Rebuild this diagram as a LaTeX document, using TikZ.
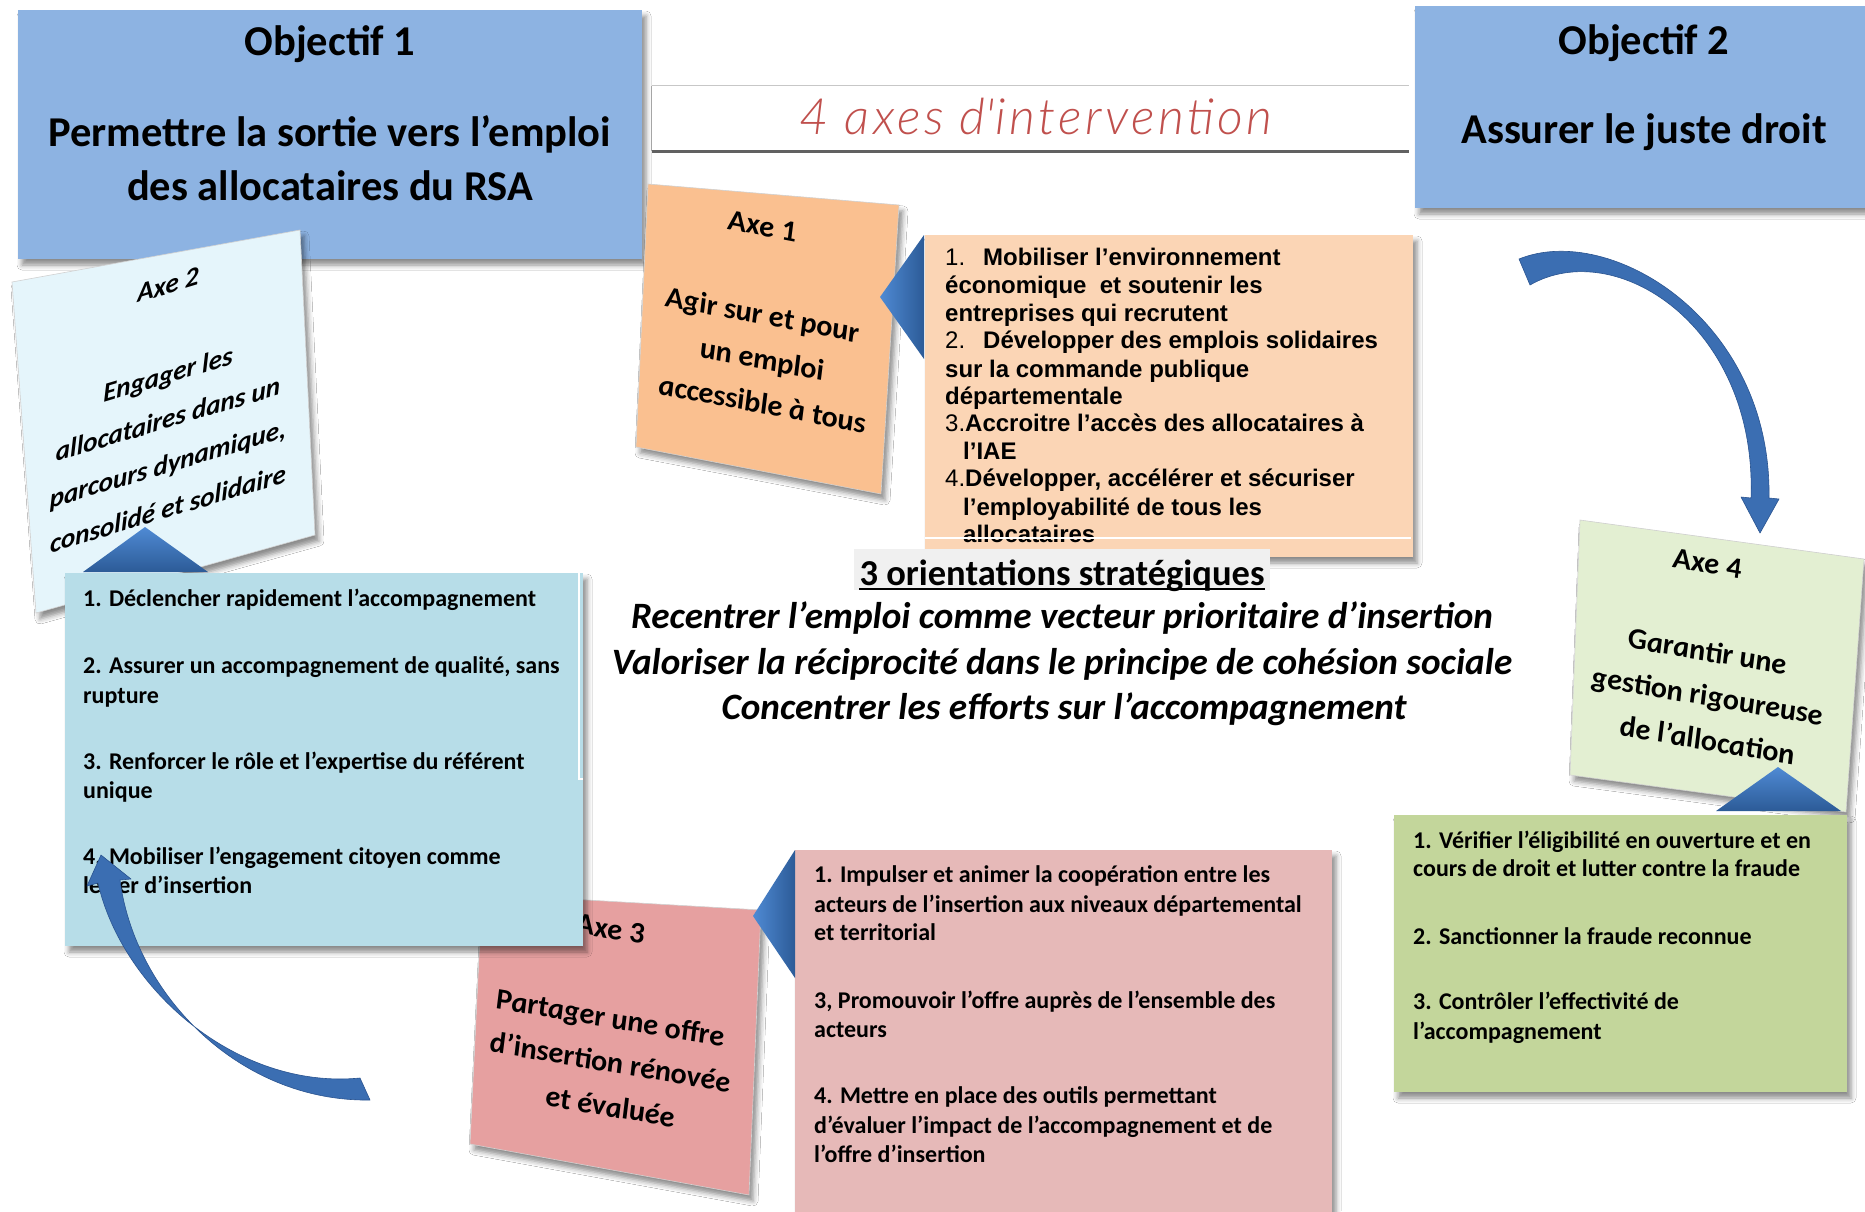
\documentclass[tikz,border=0pt]{standalone}
\usepackage{fontspec}
\setmainfont{Carlito}
\newfontfamily\arialf{Liberation Sans}
\newfontfamily\thinf{Lato}[UprightFont={* Light},ItalicFont={* Light Italic},LetterSpace=7]
\usetikzlibrary{shadows.blur}
\definecolor{objblue}{HTML}{8DB3E2}
\definecolor{titlered}{HTML}{C0504D}
\definecolor{aonecard}{HTML}{FAC090}
\definecolor{aonelist}{HTML}{FBD5B5}
\definecolor{atwocard}{HTML}{E5F5FB}
\definecolor{atwolist}{HTML}{B7DDE8}
\definecolor{athreecard}{HTML}{E6A0A0}
\definecolor{athreelist}{HTML}{E6B9B8}
\definecolor{afourcard}{HTML}{E3EFD2}
\definecolor{afourlist}{HTML}{C3D69B}
\definecolor{trilight}{HTML}{4F8AD4}
\definecolor{tridark}{HTML}{2C5B97}
\definecolor{arrowblue}{HTML}{3B6EB2}
\definecolor{arrowedge}{HTML}{2A5490}
\definecolor{headbg}{HTML}{F0F0F0}
\tikzset{
  shad/.style={blur shadow={shadow xshift=4pt,shadow yshift=-6pt,shadow blur radius=5pt,shadow opacity=45}},
  bx/.style={rectangle, inner sep=0, draw=none, shad},
  objt/.style={font=\fontsize{42.5}{49}\selectfont\bfseries, inner sep=0},
  lt/.style={font=\fontsize{24}{29}\selectfont\bfseries, anchor=base west, inner sep=0},
  ariallt/.style={font=\arialf\fontsize{24}{28}\selectfont\bfseries, anchor=base west, inner sep=0},
  arialnum/.style={font=\arialf\fontsize{24}{28}\selectfont, anchor=base west, inner sep=0},
  cardt/.style={font=\fontsize{30}{44.5}\selectfont\bfseries\itshape, align=center, inner sep=0},
  cardshape/.style={draw=black!18, line width=0.6pt, shad},
  centert/.style={font=\fontsize{37.2}{44}\selectfont\bfseries\itshape, inner sep=0},
  arrowshape/.style={fill=arrowblue, draw=arrowedge, line width=0.6pt, line join=round}
}
\begin{document}
\begin{tikzpicture}[x=1pt,y=-1pt]
\useasboundingbox (0,0) rectangle (1865,1211);
\clip (0,0) rectangle (1865,1211);
\fill[white] (0,0) rectangle (1865,1211);

% ---- objectives
\node[bx, fill=objblue, minimum width=624pt, minimum height=249pt] (obj1) at (330,134.5) {};
\node[objt] (o1a) at (330,44) {Objectif 1};
\node[objt] (o1b) at (330,134) {Permettre la sortie vers l’emploi};
\node[objt] (o1c) at (330,186) {des allocataires du RSA};
\node[bx, fill=objblue, minimum width=460pt, minimum height=202pt] (obj2) at (1645,107) {};
\node[objt] (o2a) at (1644,43) {Objectif 2};
\node[objt] (o2b) at (1644,132) {Assurer le juste droit};

% ---- title strip
\node[rectangle, fill=white, inner sep=0, minimum width=757pt, minimum height=65pt] (tbox) at (1030.5,118.5) {};
\draw[black!22, line width=1.2pt] (tbox.north west) -- (tbox.north east);
\draw[black!35, line width=0.8pt] (tbox.north west) -- (tbox.south west);
\draw[black!62, line width=2.6pt] (tbox.south west) -- (tbox.south east);
\node[font=\thinf\itshape\fontsize{50}{56}\selectfont, text=titlered, inner sep=0] (title) at (1036,117) {4 axes d\textquotesingle intervention};

% ---- Axe 3 card (behind axe 2 list)
\path[cardshape, fill=athreecard] (482,894) -- (761,910) -- (749,1195) -- (470,1144) -- cycle;
\node[cardt, yslant=-0.17] (c3) at (610,1018) {Axe 3\\[44.5pt]Partager une offre\\d’insertion rénovée\\et évaluée};

% ---- Axe 2 card
\path[cardshape, fill=atwocard] (12,282) -- (300,230) -- (315,535) -- (36,613) -- cycle;
\node[cardt, font=\fontsize{27}{44.8}\selectfont\bfseries\itshape, yslant=0.3] (c2) at (168,397) {Axe 2\\[44.8pt]Engager les\\allocataires dans un\\parcours dynamique,\\consolidé et solidaire};

% ---- Axe 2 list
\node[bx, fill=atwolist, minimum width=518pt, minimum height=373pt] (l2) at (324,759.5) {};
\draw[white, line width=1.5pt] (579,573) -- (579,779) -- (583,779);
\shade[top color=trilight, bottom color=tridark] (145,527) -- (208,572) -- (83,572) -- cycle;
\node[lt] (l2a) at (83,606) {1. Déclencher rapidement l’accompagnement};
\node[lt] (l2b) at (83,673) {2. Assurer un accompagnement de qualité, sans};
\node[lt] (l2c) at (83,703) {rupture};
\node[lt] (l2d) at (83,769) {3. Renforcer le rôle et l’expertise du référent};
\node[lt] (l2e) at (83,798) {unique};
\node[lt] (l2f) at (83,864) {4. Mobiliser l’engagement citoyen comme};
\node[lt] (l2g) at (83,893) {levier d’insertion};

% ---- Axe 3 list
\node[bx, fill=athreelist, minimum width=537pt, minimum height=370pt] (l3) at (1063.5,1035) {};
\shade[left color=trilight, right color=tridark] (753,916) -- (795,850) -- (795,978) -- cycle;
\node[lt] (l3a) at (814,882) {1. Impulser et animer la coopération entre les};
\node[lt] (l3b) at (814,912) {acteurs de l’insertion aux niveaux départemental};
\node[lt] (l3c) at (814,940) {et territorial};
\node[lt] (l3d) at (814,1008) {3, Promouvoir l’offre auprès de l’ensemble des};
\node[lt] (l3e) at (814,1037) {acteurs};
\node[lt] (l3f) at (814,1103) {4. Mettre en place des outils permettant};
\node[lt] (l3g) at (814,1133) {d’évaluer l’impact de l’accompagnement et de};
\node[lt] (l3h) at (814,1162) {l’offre d’insertion};

% ---- Axe 1 card
\path[cardshape, fill=aonecard] (648,184) -- (899,205) -- (881,494) -- (636,447) -- cycle;
\node[cardt, yslant=-0.19] (c1) at (762,315) {Axe 1\\[44.5pt]Agir sur et pour\\un emploi\\accessible à tous};

% ---- Axe 1 list
\node[bx, fill=aonelist, minimum width=488pt, minimum height=322pt] (l1) at (1169,396) {};
\shade[left color=trilight, right color=tridark] (880,297) -- (924,235) -- (924,359) -- cycle;
\node[arialnum] (l1n1) at (945,265) {1.};
\node[ariallt] (l1a) at (983,265) {Mobiliser l’environnement};
\node[ariallt] (l1b) at (945,293) {économique\ \ et soutenir les};
\node[ariallt] (l1c) at (945,321) {entreprises qui recrutent};
\node[arialnum] (l1n2) at (945,348) {2.};
\node[ariallt] (l1d) at (983,348) {Développer des emplois solidaires};
\node[ariallt] (l1e) at (945,377) {sur la commande publique};
\node[ariallt] (l1f) at (945,404) {départementale};
\node[ariallt] (l1g) at (945,431) {{\mdseries 3.}Accroitre l’accès des allocataires à};
\node[ariallt] (l1h) at (963,459) {l’IAE};
\node[ariallt] (l1i) at (945,486) {{\mdseries 4.}Développer, accélérer et sécuriser};
\node[ariallt] (l1j) at (963,515) {l’employabilité de tous les};
\node[ariallt] (l1k) at (963,542) {allocataires};
\draw[white, line width=2.5pt] (925,538) -- (1411,538);

% ---- Axe 4 card
\path[cardshape, fill=afourcard] (1580,520) -- (1864,559) -- (1846,812) -- (1570,775) -- cycle;
\node[cardt, yslant=-0.17] (c4) at (1707,652) {Axe 4\\[44pt]Garantir une\\gestion rigoureuse\\de l’allocation};

% ---- Axe 4 list
\node[bx, fill=afourlist, minimum width=453pt, minimum height=277pt] (l4) at (1620.5,953.5) {};
\shade[top color=trilight, bottom color=tridark] (1778,767) -- (1841,811) -- (1716,811) -- cycle;
\node[lt] (l4a) at (1413,848) {1. Vérifier l’éligibilité en ouverture et en};
\node[lt] (l4b) at (1413,876) {cours de droit et lutter contre la fraude};
\node[lt] (l4c) at (1413,944) {2. Sanctionner la fraude reconnue};
\node[lt] (l4d) at (1413,1009) {3. Contrôler l’effectivité de};
\node[lt] (l4e) at (1413,1039) {l’accompagnement};

% ---- central orientations
\fill[headbg] (854,549) rectangle (1270,590);
\node[font=\fontsize{36.5}{44}\selectfont\bfseries, inner sep=0, anchor=base] (head) at (1062,585) {3 orientations stratégiques};
\draw[line width=2.4pt] ([yshift=-4pt]head.base west) -- ([yshift=-4pt]head.base east);
\node[centert] (or1) at (1062,618) {Recentrer l’emploi comme vecteur prioritaire d’insertion};
\node[centert] (or2) at (1062,664) {Valoriser la réciprocité dans le principe de cohésion sociale};
\node[centert] (or3) at (1064,709) {Concentrer les efforts sur l’accompagnement};

% ---- curved arrows
\path[arrowshape] (1519,259) .. controls (1610,222) and (1772,320) .. (1769,498)
  -- (1779,499) -- (1760,533) -- (1741,497) -- (1751,498)
  .. controls (1757,325) and (1615,236) .. (1530,285) -- cycle;
\path[arrowshape] (370,1100) .. controls (240,1102) and (135,995) .. (120,880)
  -- (131,879) -- (101,855) -- (87,886) -- (98,883)
  .. controls (122,988) and (236,1090) .. (360,1078) -- cycle;
\end{tikzpicture}
\end{document}
